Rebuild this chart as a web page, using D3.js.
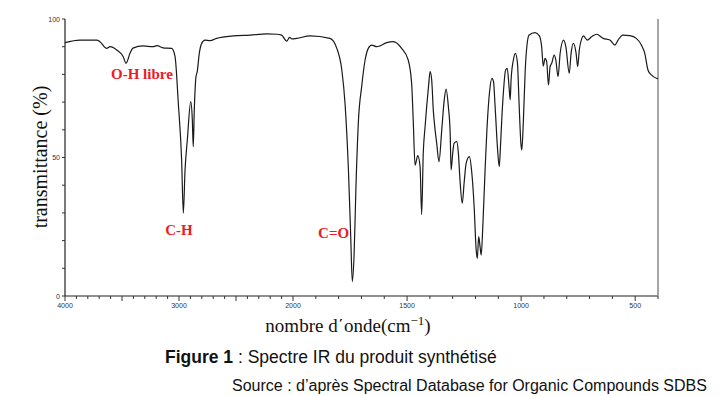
<!DOCTYPE html>
<html>
<head>
<meta charset="utf-8">
<style>
  body { margin: 0; background: #fff; }
  svg { display: block; }
</style>
</head>
<body>
<div id="chart"></div>
<script src="https://cdn.jsdelivr.net/npm/d3@7"></script>
<script>
// spectrum (wavenumber in cm-1, transmittance in %)
var wavenumbers = [4000, 3870, 3722, 3693, 3634, 3605, 3546, 3489, 3465, 3430, 3404, 3316, 3228, 3193, 3140, 3064,
  3035, 3006, 2977, 2962, 2947, 2927, 2897, 2883, 2875, 2866, 2851, 2840, 2822, 2801, 2772, 2728, 2670, 2523, 2377,
  2231, 2143, 2100, 2055, 2030, 2011, 1984, 1925, 1838, 1808, 1786, 1772, 1757, 1747, 1740, 1732, 1724, 1713, 1699,
  1684, 1670, 1655, 1633, 1618, 1589, 1560, 1524, 1495, 1480, 1473, 1465, 1453, 1443, 1436, 1429, 1421, 1406, 1399,
  1392, 1385, 1377, 1370, 1360, 1348, 1337, 1329, 1319, 1311, 1307, 1300, 1294, 1282, 1275, 1268, 1258, 1250, 1241,
  1227, 1216, 1206, 1197, 1192, 1186, 1180, 1175, 1168, 1158, 1150, 1139, 1128, 1121, 1114, 1104, 1096, 1092, 1085,
  1078, 1068, 1061, 1053, 1048, 1044, 1034, 1025, 1016, 1009, 1001, 997, 990, 982, 975, 965, 939, 920, 910, 903, 895,
  888, 880, 873, 866, 855, 848, 838, 829, 814, 804, 789, 781, 771, 759, 752, 745, 734, 727, 710, 691, 669, 640, 611,
  589, 575, 554, 524, 495, 473, 458, 444, 429, 407, 400];
var transmittance = [91.5, 92.4, 92.4, 91.8, 89.4, 90.0, 88.8, 86.4, 84.0, 87.6, 89.5, 90.3, 90.0, 90.4, 89.6, 89.4,
  86.5, 69.6, 49.1, 29.9, 45.5, 56.3, 70.2, 63.5, 53.9, 67.1, 79.2, 81.0, 87.6, 91.2, 92.4, 92.2, 93.0, 93.9, 94.2,
  94.6, 94.5, 94.2, 92.0, 93.4, 92.8, 93.0, 93.9, 93.0, 89.4, 81.6, 69.6, 45.5, 21.4, 5.2, 15.4, 39.5, 63.5, 75.6,
  85.2, 89.4, 90.6, 90.0, 90.3, 91.5, 91.8, 89.4, 85.2, 76.8, 63.5, 47.2, 50.7, 46.7, 29.4, 51.5, 61.1, 75.6, 81.0,
  78.0, 67.1, 59.9, 55.1, 48.5, 59.9, 70.8, 74.7, 68.4, 58.7, 45.5, 51.5, 55.1, 55.7, 51.5, 41.9, 33.5, 40.7, 47.9,
  50.3, 44.3, 32.3, 16.6, 13.6, 21.4, 17.8, 14.8, 25.0, 45.5, 59.9, 73.2, 78.6, 77.4, 68.4, 53.9, 46.7, 51.5, 63.5,
  73.2, 81.6, 82.2, 75.6, 70.8, 78.0, 85.2, 87.6, 84.0, 69.6, 55.1, 52.7, 63.5, 81.6, 90.0, 94.2, 95.1, 93.9, 90.0, 83.0, 85.8,
  84.6, 76.2, 82.8, 84.0, 87.0, 85.2, 79.2, 87.6, 92.4, 90.0, 80.4, 87.6, 91.2, 87.6, 82.8, 88.8, 93.0, 93.9, 92.4, 93.6, 94.5, 93.0, 92.4,
  90.6, 92.4, 94.2, 94.0, 93.0, 90.6, 87.6, 81.6, 79.8, 78.6, 78.5];

var xTickLabels = [4000, 3000, 2000, 1500, 1000, 500];
var yTickLabels = [0, 50, 100];
var bandLabels = ["O-H libre", "C-H", "C=O"];
var bandWavenumbers = [3325, 3000, 1822];
var bandTransmittance = [78.4, 22, 21];

var W = 722, H = 396;
var svg = d3.select("#chart").append("svg")
  .attr("width", W).attr("height", H)
  .style("background", "#fff");

// IR axis: scale changes at 2000 cm-1
var x = d3.scaleLinear().domain([4000, 2000, 400]).range([65, 293, 658]);
var y = d3.scaleLinear().domain([0, 100]).range([296, 19]);

var minorX = d3.range(4000, 399, -100);
var minorY = d3.range(0, 101, 10);

// bottom axis
var gx = svg.append("g").attr("transform", "translate(0," + y(0) + ")");
gx.append("line").attr("x1", x(4000)).attr("x2", x(400)).attr("stroke", "#222").attr("stroke-width", 1.2);
gx.selectAll("line.tick").data(minorX).enter().append("line")
  .attr("x1", function(d) { return x(d); }).attr("x2", function(d) { return x(d); })
  .attr("y1", 0).attr("y2", function(d) { return d % 500 === 0 ? 5 : 3; })
  .attr("stroke", "#333").attr("stroke-width", 1);
gx.selectAll("text").data(xTickLabels).enter().append("text")
  .attr("x", function(d) { return x(d); }).attr("y", 12)
  .attr("text-anchor", "middle")
  .style("font", "7px 'Liberation Sans', sans-serif").style("fill", "#333")
  .text(function(d) { return d; });

// left axis
var gy = svg.append("g").attr("transform", "translate(" + x(4000) + ",0)");
gy.append("line").attr("y1", y(0)).attr("y2", y(100)).attr("stroke", "#222").attr("stroke-width", 1.2);
gy.selectAll("line.tick").data(minorY).enter().append("line")
  .attr("y1", function(d) { return y(d); }).attr("y2", function(d) { return y(d); })
  .attr("x1", 0).attr("x2", -3)
  .attr("stroke", "#333").attr("stroke-width", 1);
gy.selectAll("text").data(yTickLabels).enter().append("text")
  .attr("x", -5).attr("y", function(d) { return y(d) + 2.5; })
  .attr("text-anchor", "end")
  .style("font", "7px 'Liberation Sans', sans-serif").style("fill", "#333")
  .text(function(d) { return d; });

// right edge
svg.append("line")
  .attr("x1", x(400)).attr("x2", x(400)).attr("y1", y(100)).attr("y2", y(0))
  .attr("stroke", "#888").attr("stroke-width", 1.5);

// spectrum
var pts = wavenumbers.map(function(w, i) { return [w, transmittance[i]]; });
var line = d3.line()
  .x(function(d) { return x(d[0]); })
  .y(function(d) { return y(d[1]); })
  .curve(d3.curveMonotoneX);
svg.append("path").datum(pts)
  .attr("d", line)
  .attr("fill", "none")
  .attr("stroke", "#1a1a1a")
  .attr("stroke-width", 1.2)
  .attr("stroke-linejoin", "round");

// band labels
svg.selectAll("text.band").data(bandLabels).enter().append("text")
  .attr("class", "band")
  .attr("x", function(d, i) { return x(bandWavenumbers[i]); })
  .attr("y", function(d, i) { return y(bandTransmittance[i]); })
  .attr("text-anchor", "middle")
  .style("font", "bold 15px 'Liberation Serif', serif")
  .style("fill", "#ed1c24")
  .text(function(d) { return d; });

// axis titles
svg.append("text")
  .attr("transform", "translate(47,157) rotate(-90)")
  .attr("text-anchor", "middle")
  .style("font", "20px 'Liberation Serif', serif").style("fill", "#111")
  .text("transmittance (%)");

var xt = svg.append("text")
  .attr("x", 348).attr("y", 332)
  .attr("text-anchor", "middle")
  .style("font", "19px 'Liberation Serif', serif").style("fill", "#111");
xt.append("tspan").text("nombre d\u0384onde(cm");
xt.append("tspan").attr("dy", -7).style("font-size", "13px").text("\u22121");
xt.append("tspan").attr("dy", 7).text(")");

// caption
var cap = svg.append("text")
  .attr("x", 165).attr("y", 363)
  .style("font", "17.5px 'Liberation Sans', sans-serif").style("fill", "#111");
cap.append("tspan").style("font-weight", "bold").text("Figure 1");
cap.append("tspan").text(" : Spectre IR du produit synthétisé");

svg.append("text")
  .attr("x", 232).attr("y", 391)
  .style("font", "16px 'Liberation Sans', sans-serif").style("fill", "#111")
  .text("Source : d’après Spectral Database for Organic Compounds SDBS");
</script>
</body>
</html>
